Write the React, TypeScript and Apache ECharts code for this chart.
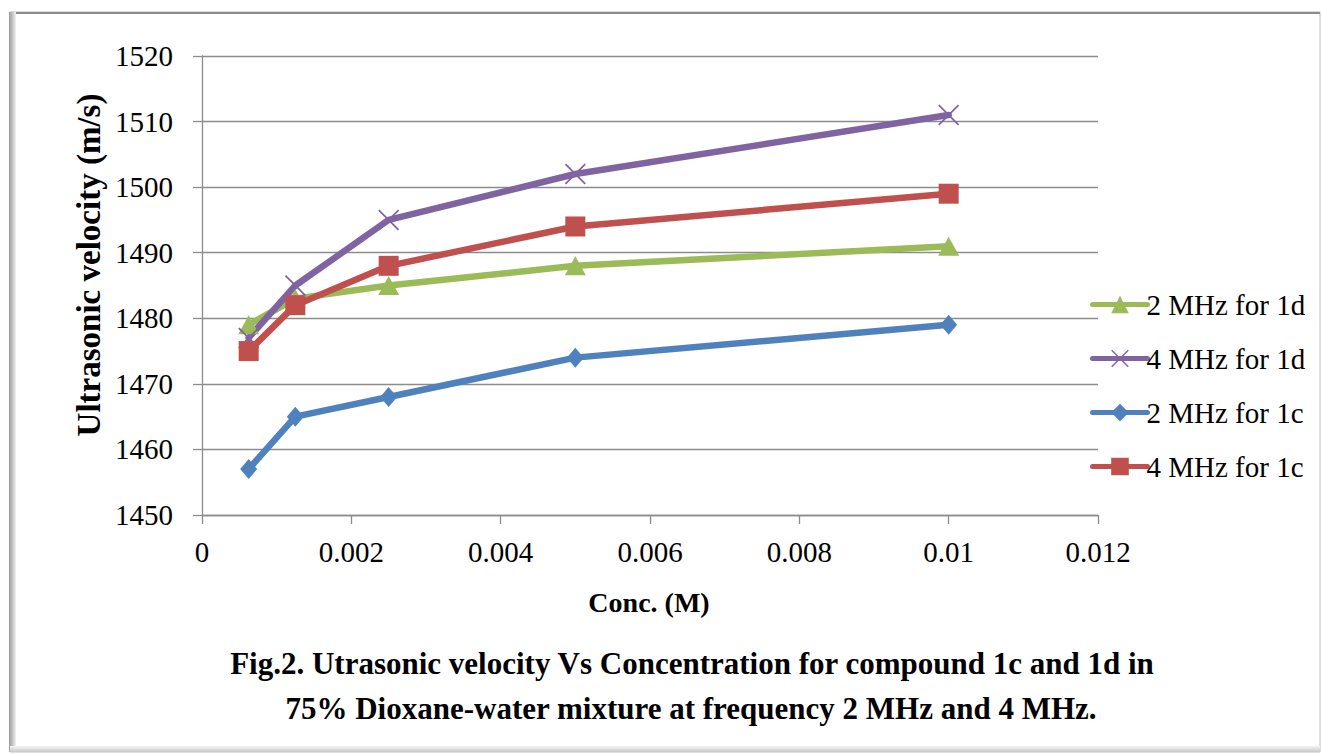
import React, { useEffect, useRef } from "react";
import * as echarts from "echarts";

const concentrations = [0.000625, 0.00125, 0.0025, 0.005, 0.01];
const seriesNames = ["2 MHz for 1d", "4 MHz for 1d", "2 MHz for 1c", "4 MHz for 1c"];
const v2MHz1d = [1479, 1483, 1485, 1488, 1491];
const v4MHz1d = [1477, 1485, 1495, 1502, 1511];
const v2MHz1c = [1457, 1465, 1468, 1474, 1479];
const v4MHz1c = [1475, 1482, 1488, 1494, 1499];
const seriesValues = [v2MHz1d, v4MHz1d, v2MHz1c, v4MHz1c];
const seriesColors = ["#9BBB59", "#8064A2", "#4F81BD", "#C0504D"];
const crossPath =
  "path://M0.6,0L5,4.4L9.4,0L10,0.6L5.6,5L10,9.4L9.4,10L5,5.6L0.6,10L0,9.4L4.4,5L0,0.6Z";
const seriesSymbols = ["triangle", crossPath, "diamond", "rect"];
const seriesSymbolSizes: any[] = [[21, 19], 21, [17, 20], 20];

const xAxisTitle = "Conc. (M)";
const yAxisTitle = "Ultrasonic velocity (m/s)";
const captionLine1 = "Fig.2. Utrasonic velocity Vs Concentration for compound 1c and 1d in";
const captionLine2 = "75% Dioxane-water mixture at frequency 2 MHz and 4 MHz.";

const FONT = "'Liberation Serif', 'Times New Roman', serif";

export default function App() {
  const ref = useRef<HTMLDivElement>(null);
  useEffect(() => {
    if (!ref.current) return;
    const chart = echarts.init(ref.current, undefined, { renderer: "svg" });
    const series = seriesNames.map((name, i) => ({
      name,
      type: "line",
      data: concentrations.map((c, j) => [c, seriesValues[i][j]]),
      symbol: seriesSymbols[i],
      symbolSize: seriesSymbolSizes[i],
      symbolKeepAspect: true,
      showAllSymbol: true,
      lineStyle: { color: seriesColors[i], width: 6.5, cap: "round", join: "round" },
      itemStyle: { color: seriesColors[i] },
      emphasis: { disabled: true },
    }));
    chart.setOption({
      animation: false,
      backgroundColor: "#ffffff",
      grid: { left: 202, right: 224, top: 56, bottom: 239, containLabel: false },
      xAxis: {
        type: "value",
        min: 0,
        max: 0.012,
        interval: 0.002,
        axisLine: { show: true, onZero: false, lineStyle: { color: "#8c8c8c", width: 1.3 } },
        axisTick: { show: true, inside: false, length: 9, lineStyle: { color: "#8c8c8c", width: 1.3 } },
        splitLine: { show: false },
        axisLabel: {
          margin: 22,
          color: "#000",
          fontFamily: FONT,
          fontSize: 29,
          formatter: (v: number) => String(+v.toFixed(4)),
        },
      },
      yAxis: {
        type: "value",
        min: 1450,
        max: 1520,
        interval: 10,
        axisLine: { show: true, lineStyle: { color: "#8c8c8c", width: 1.3 } },
        axisTick: { show: true, inside: false, length: 9, lineStyle: { color: "#8c8c8c", width: 1.3 } },
        splitLine: { show: true, lineStyle: { color: "#8c8c8c", width: 1.3 } },
        axisLabel: {
          margin: 29,
          color: "#000",
          fontFamily: FONT,
          fontSize: 29,
          formatter: (v: number) => String(Math.round(v)),
        },
      },
      legend: {
        orient: "vertical",
        left: 1085,
        top: 285,
        itemWidth: 55,
        itemHeight: 22,
        itemGap: 25,
        lineStyle: { width: 5 },
        textStyle: { color: "#000", fontFamily: FONT, fontSize: 29, padding: [0, 0, 0, -6] },
        data: seriesNames,
      },
      graphic: [
        { type: "rect", shape: { x: 10, y: 12, width: 1310, height: 740 }, style: { fill: "none", stroke: "#bdbdbd", lineWidth: 1 }, silent: true },
        { type: "rect", shape: { x: 10, y: 12, width: 1310, height: 2 }, style: { fill: "#8a8a8a" }, silent: true },
        {
          type: "rect",
          shape: { x: 9, y: 12, width: 7, height: 740 },
          style: {
            fill: new echarts.graphic.LinearGradient(0, 0, 1, 0, [
              { offset: 0, color: "#9a9a9a" },
              { offset: 0.5, color: "#c4c4c4" },
              { offset: 1, color: "#f2f2f2" },
            ]),
          },
          silent: true,
        },
        {
          type: "rect",
          shape: { x: 10, y: 746, width: 1310, height: 6 },
          style: {
            fill: new echarts.graphic.LinearGradient(0, 0, 0, 1, [
              { offset: 0, color: "#f4f4f4" },
              { offset: 1, color: "#c8c8c8" },
            ]),
          },
          silent: true,
        },
        {
          type: "text",
          x: 89,
          y: 265,
          rotation: Math.PI / 2,
          style: {
            text: yAxisTitle,
            fill: "#000",
            font: `bold 33px ${FONT}`,
            align: "center",
            verticalAlign: "middle",
          },
          silent: true,
        },
        {
          type: "text",
          x: 649,
          y: 602,
          style: { text: xAxisTitle, fill: "#000", font: `bold 28px ${FONT}`, align: "center", verticalAlign: "middle" },
          silent: true,
        },
        {
          type: "text",
          x: 692,
          y: 663,
          style: { text: captionLine1, fill: "#000", font: `bold 31px ${FONT}`, align: "center", verticalAlign: "middle" },
          silent: true,
        },
        {
          type: "text",
          x: 691,
          y: 708,
          style: { text: captionLine2, fill: "#000", font: `bold 31px ${FONT}`, align: "center", verticalAlign: "middle" },
          silent: true,
        },
      ],
      series,
    });
    return () => chart.dispose();
  }, []);
  return (
    <div
      ref={ref}
      style={{ position: "absolute", left: 0, top: 0, width: 1322, height: 754, background: "#fff" }}
    />
  );
}
